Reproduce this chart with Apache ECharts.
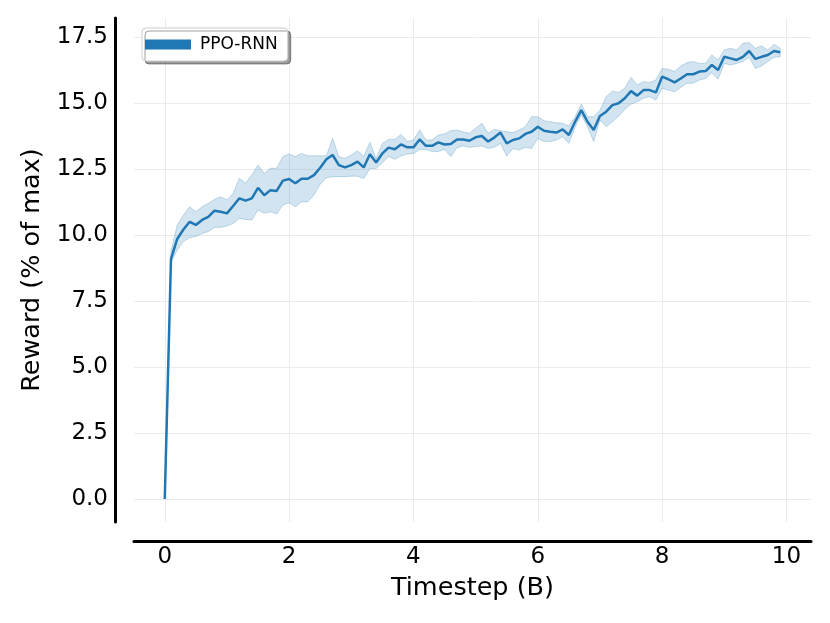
<!DOCTYPE html>
<html><head><meta charset="utf-8">
<script src="https://cdn.jsdelivr.net/npm/echarts@6/dist/echarts.min.js"></script>
<style>html,body{margin:0;padding:0;background:#fff}#c{width:830px;height:623px}</style>
</head><body><div id="c"></div>
<script>
const seriesName = 'PPO-RNN';
const timesteps = [0,0.1,0.2,0.3,0.4,0.5,0.6,0.7,0.8,0.9,1,1.1,1.2,1.3,1.4,1.5,1.6,1.7,1.8,1.9,2,2.1,2.2,2.3,2.4,2.5,2.6,2.7,2.8,2.9,3,3.1,3.2,3.3,3.4,3.5,3.6,3.7,3.8,3.9,4,4.1,4.2,4.3,4.4,4.5,4.6,4.7,4.8,4.9,5,5.1,5.2,5.3,5.4,5.5,5.6,5.7,5.8,5.9,6,6.1,6.2,6.3,6.4,6.5,6.6,6.7,6.8,6.9,7,7.1,7.2,7.3,7.4,7.5,7.6,7.7,7.8,7.9,8,8.1,8.2,8.3,8.4,8.5,8.6,8.7,8.8,8.9,9,9.1,9.2,9.3,9.4,9.5,9.6,9.7,9.8,9.9];
const meanReward = [0,9.1,9.85,10.21,10.5,10.38,10.57,10.69,10.92,10.88,10.82,11.1,11.39,11.3,11.39,11.79,11.51,11.7,11.67,12.06,12.12,11.96,12.13,12.13,12.27,12.55,12.87,13.03,12.65,12.56,12.65,12.78,12.56,13.06,12.75,13.09,13.31,13.25,13.43,13.32,13.32,13.62,13.38,13.38,13.51,13.43,13.45,13.62,13.62,13.57,13.7,13.75,13.54,13.69,13.88,13.47,13.6,13.66,13.83,13.91,14.1,13.95,13.91,13.88,14.0,13.79,14.29,14.73,14.29,13.98,14.51,14.67,14.92,14.99,15.18,15.45,15.28,15.49,15.49,15.4,16.0,15.9,15.78,15.93,16.09,16.09,16.19,16.21,16.44,16.25,16.75,16.69,16.63,16.75,16.97,16.67,16.75,16.82,16.97,16.92];
const upperReward = [0,9.4,10.38,10.76,11.07,10.88,11.07,11.2,11.35,11.45,11.33,11.58,12.15,11.96,12.27,12.65,12.34,12.53,12.53,12.97,13.07,12.97,13.09,13.0,13.0,13.0,13.0,13.66,12.97,12.9,13.03,13.19,12.97,13.51,12.9,13.47,13.62,13.62,13.81,13.54,13.6,13.98,13.6,13.6,13.79,13.83,13.95,13.98,13.9,13.85,14.04,14.23,13.85,14.0,13.95,13.91,13.88,13.98,14.1,14.48,14.48,14.33,14.29,14.25,14.23,14.13,14.48,14.96,14.48,14.48,14.73,15.24,15.45,15.4,15.56,15.97,15.68,15.81,15.78,15.87,16.31,16.28,16.19,16.4,16.53,16.57,16.5,16.5,16.82,16.63,17.01,17.07,17.01,17.26,17.29,17.07,17.16,17.01,17.23,17.07];
const lowerReward = [0,8.95,9.43,9.75,9.9,9.94,10.06,10.13,10.29,10.29,10.34,10.44,10.63,10.59,10.57,10.95,10.82,10.88,10.8,11.14,11.22,11.07,11.26,11.26,11.52,11.92,12.17,12.21,12.21,12.21,12.23,12.23,12.14,12.52,12.52,12.74,12.97,12.87,12.99,13.07,13.09,13.24,13.24,13.16,13.16,13.24,12.97,13.31,13.37,13.32,13.35,13.37,13.28,13.32,13.47,12.99,13.28,13.22,13.32,13.28,13.66,13.54,13.54,13.6,13.72,13.47,14.08,14.55,14.1,13.54,14.36,14.1,14.29,14.5,14.76,14.96,15.05,15.18,15.24,15.11,15.56,15.49,15.43,15.59,15.75,15.75,15.87,15.93,16.15,15.9,16.5,16.44,16.5,16.57,16.73,16.31,16.4,16.57,16.73,16.75];
const xTicks = [0, 2, 4, 6, 8, 10];
const yTicks = [0, 2.5, 5, 7.5, 10, 12.5, 15, 17.5];
const xLabel = 'Timestep (B)';
const yLabel = 'Reward (% of max)';

const FONT = 'DejaVu Sans';
const BLUE = '#1f77b4';
const chart = echarts.init(document.getElementById('c'), null, {renderer: 'canvas'});

const bandData = timesteps.map((t, i) => [t, lowerReward[i], upperReward[i]]);
const meanData = timesteps.map((t, i) => [t, meanReward[i]]);

function renderBand(params, api) {
  if (params.dataIndex !== 0) return null;
  const pts = [];
  for (let i = 0; i < bandData.length; i++) pts.push(api.coord([bandData[i][0], bandData[i][2]]));
  for (let i = bandData.length - 1; i >= 0; i--) pts.push(api.coord([bandData[i][0], bandData[i][1]]));
  return {
    type: 'polygon',
    shape: {points: pts},
    style: {fill: 'rgba(31,119,180,0.2)', stroke: 'rgba(31,119,180,0.25)', lineWidth: 1}
  };
}

chart.setOption({
  animation: false,
  backgroundColor: '#fff',
  textStyle: {fontFamily: FONT},
  grid: {left: 134, right: 19, top: 18, bottom: 101, containLabel: false},
  legend: {
    data: [{name: seriesName, icon: 'rect'}],
    left: 142, top: 28,
    itemWidth: 46, itemHeight: 10, itemGap: 10,
    padding: [8, 10, 8, 3],
    backgroundColor: '#fff',
    borderColor: '#cccccc', borderWidth: 1, borderRadius: 4,
    shadowColor: 'rgba(0,0,0,0.38)', shadowOffsetX: 3, shadowOffsetY: 3, shadowBlur: 0,
    textStyle: {fontFamily: FONT, fontSize: 17, color: '#000', padding: [0,0,0,4]}
  },
  xAxis: {
    type: 'value', min: -0.495, max: 10.395,
    offset: 19,
    axisLine: {show: true, onZero: false, lineStyle: {color: '#000', width: 3}},
    axisTick: {show: false, customValues: xTicks},
    axisLabel: {customValues: xTicks, fontFamily: FONT, fontSize: 23, color: '#000', margin: 5,
                formatter: v => String(v)},
    splitLine: {show: true, lineStyle: {color: '#ebebeb', width: 1}},
    name: xLabel, nameLocation: 'middle', nameGap: 34,
    nameTextStyle: {fontFamily: FONT, fontSize: 25.5, color: '#000'}
  },
  yAxis: {
    type: 'value', min: -0.87, max: 18.22,
    offset: 19,
    axisLine: {show: true, onZero: false, lineStyle: {color: '#000', width: 3}},
    axisTick: {show: false, customValues: yTicks},
    axisLabel: {customValues: yTicks, fontFamily: FONT, fontSize: 23, color: '#000', margin: 7,
                formatter: v => v.toFixed(1)},
    splitLine: {show: true, lineStyle: {color: '#ebebeb', width: 1}},
    name: yLabel, nameLocation: 'middle', nameGap: 70,
    nameTextStyle: {fontFamily: FONT, fontSize: 25.5, color: '#000'}
  },
  series: [
    {
      name: 'band', type: 'custom', data: bandData, renderItem: renderBand,
      encode: {x: 0, y: [1, 2]}, silent: true, z: 1, clip: true
    },
    {
      name: seriesName, type: 'line', data: meanData,
      symbol: 'none', z: 3,
      itemStyle: {color: BLUE},
      lineStyle: {color: BLUE, width: 2.5}
    }
  ]
});
</script>
</body></html>
